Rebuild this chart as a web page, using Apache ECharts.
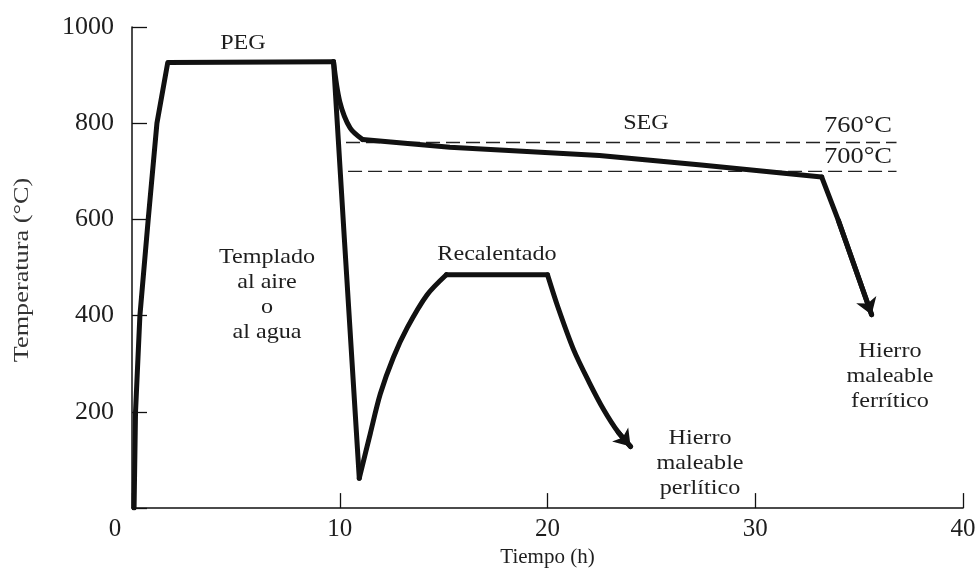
<!DOCTYPE html>
<html>
<head>
<meta charset="utf-8">
<script src="https://cdn.jsdelivr.net/npm/echarts/dist/echarts.min.js"></script>
<style>
  html, body { margin: 0; padding: 0; background: #ffffff; }
  #chart { width: 980px; height: 573px; }
</style>
</head>
<body>
<div id="chart"></div>
<script>
// Heat-treatment cycles for malleable cast iron: time (h) vs temperature (°C)
const xTicks = [0, 10, 20, 30, 40];
const yTicks = [0, 200, 400, 600, 800, 1000];

// First-stage graphitization (PEG): heating and holding
const heatAndHold = [[0.1, 0], [0.17, 200], [0.38, 400], [0.78, 600], [1.2, 800], [1.72, 926], [9.7, 928]];
// Quench in air or water
const quench = [[9.7, 928], [10.22, 561], [10.94, 62]];
// Reheating to the tempering temperature
const reheatRise = [[10.94, 62], [11.47, 155], [11.95, 237], [12.58, 313], [13.25, 375], [14.2, 443], [15.13, 485]];
const reheatHold = [[15.13, 485], [20.0, 485]];
// Cooling → pearlitic malleable iron
const pearliticCool = [[20.0, 485], [20.5, 418], [21.25, 330], [22.0, 262], [22.7, 205], [23.4, 158], [24.0, 128]];
// Slow cooling into second-stage graphitization (SEG)
const segApproach = [[9.7, 928], [10.0, 845], [10.5, 790], [11.1, 766]];
const segHold = [[11.1, 766], [15.3, 750], [22.5, 733], [27.4, 713], [33.2, 688]];
// Cooling → ferritic malleable iron
const ferriticCool = [[33.2, 688], [34.0, 598], [35.6, 402]];
// Critical range limits
const line760 = [[10.3, 760], [36.8, 760]];
const line700 = [[10.4, 700], [36.8, 700]];

const INK = '#111111';
const TEXT = '#1e1e1e';
const SERIF = '"Liberation Serif", "Times New Roman", serif';

const thick = { color: INK, width: 5, cap: 'round', join: 'round' };

function curve(data, smooth) {
  return {
    type: 'line', data: data, smooth: smooth ? 0.3 : false,
    symbol: 'none', lineStyle: thick, silent: true, z: 3
  };
}
function dashed(data) {
  return {
    type: 'line', data: data, symbol: 'none', silent: true, z: 2,
    lineStyle: { color: '#222', width: 1.4, type: [14, 6] }
  };
}
function arrowHead(path) {
  const n = path.length;
  return {
    type: 'lines', coordinateSystem: 'cartesian2d', silent: true, z: 4,
    symbol: ['none', 'arrow'], symbolSize: 16,
    lineStyle: { color: INK, width: 5, opacity: 1, cap: 'round' },
    data: [{ coords: [path[n - 2], path[n - 1]] }]
  };
}

const chart = echarts.init(document.getElementById('chart'), null, { renderer: 'canvas' });

function label(text, x, y, size, extra) {
  return Object.assign({
    type: 'text', x: x, y: y, scaleX: 1.15, z: 10,
    style: {
      text: text, fill: TEXT, font: (size || 21) + 'px ' + SERIF,
      textAlign: 'center', textVerticalAlign: 'middle', lineHeight: 25
    }
  }, extra || {});
}

chart.setOption({
  animation: false,
  backgroundColor: '#ffffff',
  grid: { left: 132, right: 17, top: 27, bottom: 61 },
  xAxis: {
    type: 'value', min: xTicks[0], max: xTicks[xTicks.length - 1], interval: 10,
    name: 'Tiempo (h)', nameLocation: 'middle', nameGap: 36,
    nameTextStyle: { fontFamily: SERIF, fontSize: 21, color: TEXT },
    axisLine: { lineStyle: { color: INK, width: 1.5 } },
    axisTick: { inside: true, length: 15, lineStyle: { color: INK, width: 1.3 } },
    axisLabel: {
      fontFamily: SERIF, fontSize: 25, color: TEXT, margin: 9,
      formatter: v => (v === 0 ? '{z|0}' : String(v)),
      rich: { z: { fontFamily: SERIF, fontSize: 25, color: TEXT, padding: [0, 34, 0, 0] } }
    },
    splitLine: { show: false }
  },
  yAxis: {
    type: 'value', min: yTicks[0], max: yTicks[yTicks.length - 1], interval: 200,
    axisLine: { show: true, lineStyle: { color: INK, width: 1.5 } },
    axisTick: { show: true, inside: true, length: 15, lineStyle: { color: INK, width: 1.3 } },
    axisLabel: {
      fontFamily: SERIF, fontSize: 26, color: TEXT, margin: 18,
      formatter: v => (v === 0 ? '' : String(v))
    },
    splitLine: { show: false }
  },
  series: [
    dashed(line760),
    dashed(line700),
    curve(heatAndHold, false),
    curve(quench, false),
    curve(reheatRise, true),
    curve(reheatHold, false),
    curve(pearliticCool, true),
    curve(segApproach, true),
    curve(segHold, false),
    curve(ferriticCool, false),
    arrowHead(pearliticCool),
    arrowHead(ferriticCool)
  ],
  graphic: [
    // vertical axis title
    {
      type: 'text', x: 22, y: 270, rotation: Math.PI / 2, scaleX: 1.25, z: 10,
      style: {
        text: 'Temperatura (°C)', fill: '#333', font: '21px ' + SERIF,
        textAlign: 'center', textVerticalAlign: 'middle'
      }
    },
    label('PEG', 243, 43),
    label('SEG', 646, 123),
    label('760°C', 858, 126, 23),
    label('700°C', 858, 157, 23),
    label('Templado\nal aire\no\nal agua', 267, 295),
    label('Recalentado', 497, 254),
    label('Hierro\nmaleable\nperlítico', 700, 463),
    label('Hierro\nmaleable\nferrítico', 890, 376)
  ]
});
</script>
</body>
</html>
